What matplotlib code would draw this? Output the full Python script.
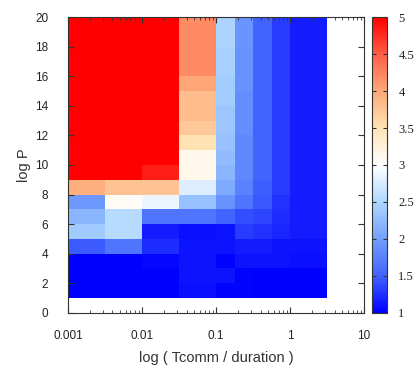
import numpy as np
import matplotlib
matplotlib.use("Agg")
import matplotlib.pyplot as plt
from matplotlib.colors import LinearSegmentedColormap
from matplotlib.ticker import LogLocator, NullFormatter

# cell edges: log10(Tcomm/duration) and log P
x_edges_log = [-3.0, -2.5, -2.0, -1.5, -1.0, -0.75, -0.5, -0.25, 0.0, 0.5]
y_edges = [1, 2, 3, 4, 5, 6, 7, 8, 9, 10, 11, 12, 13, 14, 15, 16, 17, 18, 19, 20]

# one list per column, bottom row (logP 1-2) first
col_0 = [1.0, 1.0, 1.0, 1.46, 2.38, 2.2, 1.95, 3.95, 5.0, 5.0, 5.0, 5.0, 5.0, 5.0, 5.0, 5.0, 5.0, 5.0, 5.0]
col_1 = [1.0, 1.0, 1.0, 1.65, 2.55, 2.55, 3.05, 3.78, 5.0, 5.0, 5.0, 5.0, 5.0, 5.0, 5.0, 5.0, 5.0, 5.0, 5.0]
col_2 = [1.0, 1.0, 1.04, 1.23, 1.15, 1.65, 2.88, 3.78, 4.84, 5.0, 5.0, 5.0, 5.0, 5.0, 5.0, 5.0, 5.0, 5.0, 5.0]
col_3 = [1.08, 1.1, 1.1, 1.1, 1.08, 1.65, 2.3, 2.78, 3.13, 3.13, 3.5, 3.73, 3.82, 3.82, 4.0, 4.19, 4.19, 4.19, 4.19]
col_4 = [1.02, 1.1, 1.03, 1.1, 1.1, 1.5, 1.9, 2.1, 2.2, 2.25, 2.3, 2.35, 2.35, 2.4, 2.4, 2.45, 2.45, 2.48, 2.48]
col_5 = [1.02, 1.02, 1.1, 1.15, 1.3, 1.4, 1.65, 1.75, 1.8, 1.8, 1.8, 1.85, 1.85, 1.85, 1.9, 1.9, 1.9, 1.92, 1.92]
col_6 = [1.0, 1.0, 1.1, 1.15, 1.25, 1.35, 1.45, 1.48, 1.5, 1.5, 1.5, 1.5, 1.5, 1.5, 1.5, 1.5, 1.5, 1.5, 1.5]
col_7 = [1.0, 1.0, 1.1, 1.1, 1.2, 1.22, 1.25, 1.3, 1.3, 1.3, 1.3, 1.3, 1.3, 1.3, 1.3, 1.3, 1.3, 1.3, 1.3]
col_8 = [1.0, 1.0, 1.08, 1.1, 1.15, 1.15, 1.15, 1.15, 1.15, 1.15, 1.15, 1.15, 1.15, 1.15, 1.15, 1.15, 1.15, 1.15, 1.15]

x_ticks = [0.001, 0.01, 0.1, 1, 10]
x_tick_labels = ["0.001", "0.01", "0.1", "1", "10"]
y_ticks = [0, 2, 4, 6, 8, 10, 12, 14, 16, 18, 20]
cb_ticks = [1, 1.5, 2, 2.5, 3, 3.5, 4, 4.5, 5]
cb_tick_labels = ["1", "1.5", "2", "2.5", "3", "3.5", "4", "4.5", "5"]

Z = np.array([col_0, col_1, col_2, col_3, col_4, col_5, col_6, col_7, col_8]).T
X = 10.0 ** np.array(x_edges_log)
Y = np.array(y_edges)

# blue -> white -> orange -> red palette
nodes = [(0.0, (0/255, 0/255, 255/255)),
         (0.125, (65/255, 100/255, 255/255)),
         (0.25, (115/255, 160/255, 255/255)),
         (0.375, (175/255, 215/255, 255/255)),
         (0.5, (255/255, 255/255, 255/255)),
         (0.625, (255/255, 228/255, 180/255)),
         (0.75, (255/255, 168/255, 120/255)),
         (0.875, (255/255, 95/255, 70/255)),
         (1.0, (255/255, 0/255, 0/255))]
cmap = LinearSegmentedColormap.from_list("bwr_pal", nodes)

plt.rcParams['font.family'] = ['Liberation Sans', 'DejaVu Sans']
fig = plt.figure(figsize=(4.19, 3.72), dpi=100)
ax = fig.add_axes([0.162, 0.159, 0.707, 0.795])
cax = fig.add_axes([0.888, 0.159, 0.036, 0.795])

mesh = ax.pcolormesh(X, Y, Z, cmap=cmap, vmin=1, vmax=5, shading='flat')

ax.set_xscale('log')
ax.set_xlim(0.001, 10)
ax.set_ylim(0, 20)
ax.set_xticks(x_ticks)
ax.set_xticklabels(x_tick_labels)
ax.xaxis.set_minor_locator(LogLocator(base=10, subs=np.arange(2, 10)))
ax.xaxis.set_minor_formatter(NullFormatter())
ax.set_yticks(y_ticks)
ax.tick_params(axis='both', which='major', direction='in', length=4, width=0.8,
               top=True, right=True, labelsize=8.5, colors='#333333', labelcolor='#222222')
ax.tick_params(axis='x', which='major', pad=12)
ax.tick_params(axis='y', which='major', pad=14)
ax.tick_params(axis='x', which='minor', direction='in', length=2, width=0.6,
               top=True, colors='#333333')
for s in ax.spines.values():
    s.set_color('#333333')
    s.set_linewidth(0.8)

ax.set_xlabel("log ( Tcomm / duration )", fontsize=10.5, labelpad=7, color='#333333')
ax.set_ylabel("log P", fontsize=10.5, labelpad=3, color='#333333')

cb = fig.colorbar(mesh, cax=cax)
cb.set_ticks(cb_ticks)
cb.set_ticklabels(cb_tick_labels)
cax.tick_params(direction='in', length=3, width=0.8, left=True, right=True,
                labelsize=9, pad=8, colors='#333333', labelcolor='#222222')
for lab in cax.get_yticklabels():
    lab.set_family('Liberation Serif')
cb.outline.set_edgecolor('#333333')
cb.outline.set_linewidth(0.8)

fig.savefig("out.png", dpi=100)
